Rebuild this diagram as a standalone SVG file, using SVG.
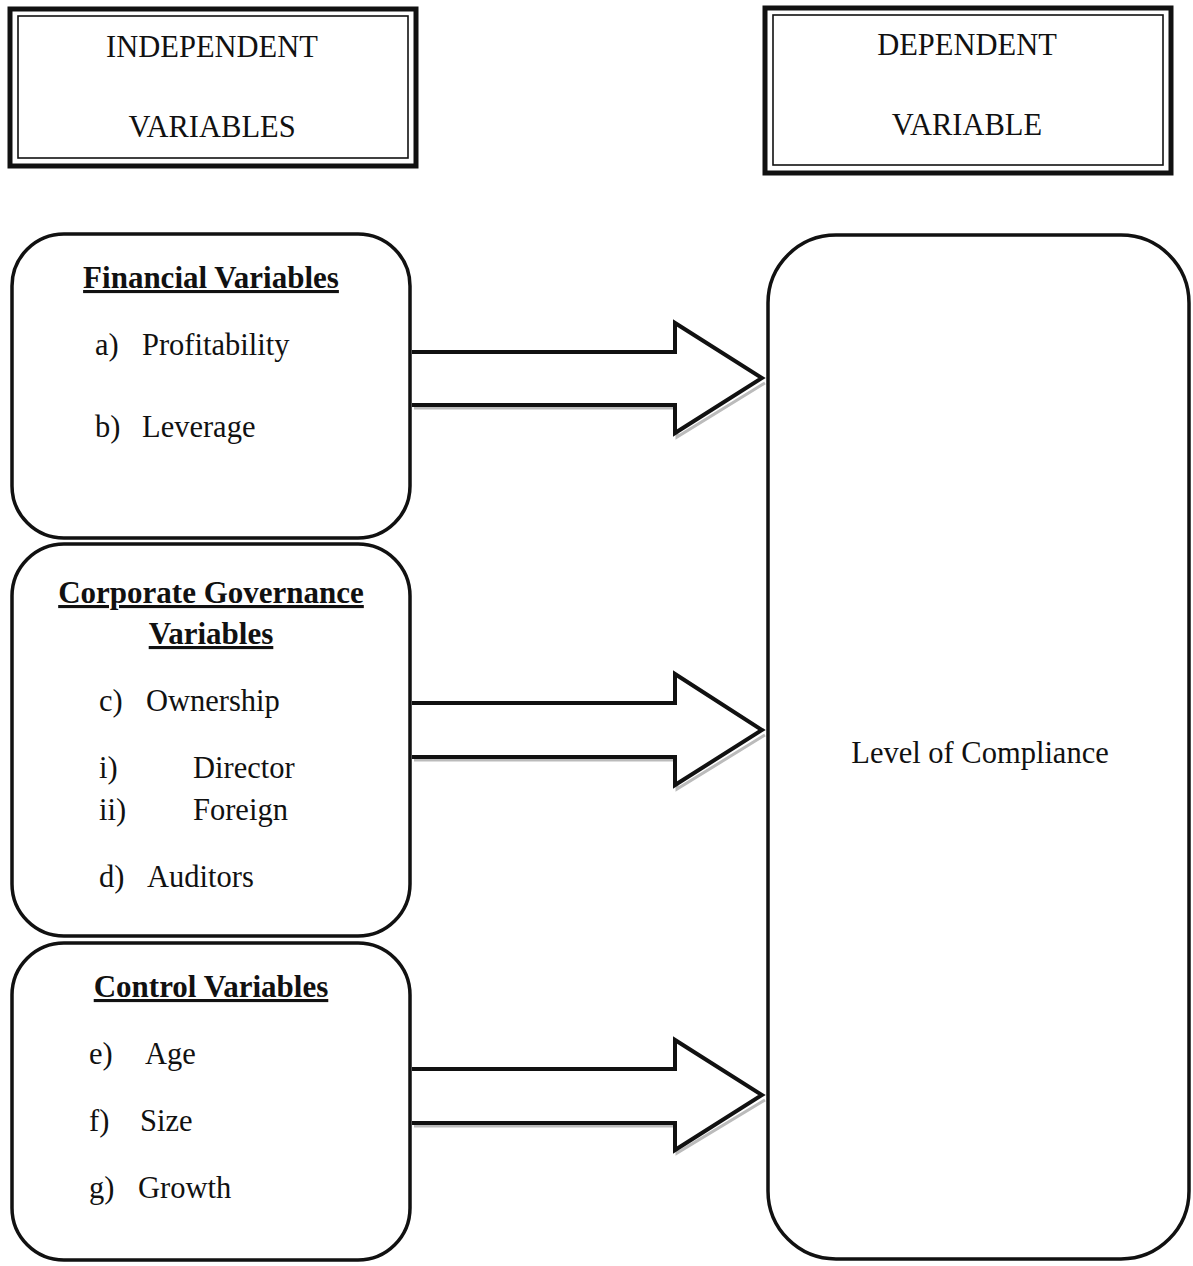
<svg xmlns="http://www.w3.org/2000/svg" width="1193" height="1266" viewBox="0 0 1193 1266">
<defs>
<style>
.t{font-family:"Liberation Serif","Times New Roman",serif;fill:#111;}
.hd{font-size:30.5px;}
.it{font-size:30.5px;}
.bh{font-size:31px;font-weight:bold;text-decoration:underline;}
.outer{fill:none;stroke:#111;stroke-width:5;}
.inner{fill:none;stroke:#111;stroke-width:1.6;}
.rb{fill:#fff;stroke:#111;stroke-width:3.5;}
.arr{fill:#fff;stroke:#111;stroke-width:4;stroke-linejoin:miter;}
.sh{fill:none;stroke:#bbb;stroke-width:3;}
</style>
</defs>
<rect width="1193" height="1266" fill="#fff"/>

<g id="hdr-independent">
<rect class="outer" x="10" y="9" width="406" height="157"/>
<rect class="inner" x="18" y="16" width="390" height="142"/>
<text class="t hd" x="212" y="57" text-anchor="middle">INDEPENDENT</text>
<text class="t hd" x="212" y="137" text-anchor="middle">VARIABLES</text>
</g>

<g id="hdr-dependent">
<rect class="outer" x="765" y="8" width="406" height="165"/>
<rect class="inner" x="773" y="15" width="390" height="150"/>
<text class="t hd" x="967" y="55" text-anchor="middle">DEPENDENT</text>
<text class="t hd" x="967" y="135" text-anchor="middle">VARIABLE</text>
</g>

<g id="connectors">
<path class="sh" d="M414,408 H677 V437 L765,383"/>
<path class="arr" d="M412,352 H675 V323 L762,378 L675,433 V405 H412"/>
<path class="sh" d="M414,760 H677 V789 L765,735"/>
<path class="arr" d="M412,703 H675 V674 L762,730 L675,785 V757 H412"/>
<path class="sh" d="M414,1126 H677 V1153 L765,1100"/>
<path class="arr" d="M412,1069 H675 V1040 L762,1095 L675,1150 V1123 H412"/>
</g>

<g id="node-financial">
<rect class="rb" x="12" y="234" width="398" height="304" rx="52" ry="52"/>
<text class="t bh" x="211" y="288" text-anchor="middle">Financial Variables</text>
<text class="t it" x="95" y="355">a)</text>
<text class="t it" x="142" y="355">Profitability</text>
<text class="t it" x="95" y="437">b)</text>
<text class="t it" x="142" y="437">Leverage</text>
</g>

<g id="node-governance">
<rect class="rb" x="12" y="544" width="398" height="392" rx="52" ry="52"/>
<text class="t bh" x="211" y="603" text-anchor="middle">Corporate Governance</text>
<text class="t bh" x="211" y="644" text-anchor="middle">Variables</text>
<text class="t it" x="99" y="711">c)</text>
<text class="t it" x="146" y="711">Ownership</text>
<text class="t it" x="99" y="778">i)</text>
<text class="t it" x="193" y="778">Director</text>
<text class="t it" x="99" y="820">ii)</text>
<text class="t it" x="193" y="820">Foreign</text>
<text class="t it" x="99" y="887">d)</text>
<text class="t it" x="147" y="887">Auditors</text>
</g>

<g id="node-control">
<rect class="rb" x="12" y="943" width="398" height="317" rx="52" ry="52"/>
<text class="t bh" x="211" y="997" text-anchor="middle">Control Variables</text>
<text class="t it" x="89" y="1064">e)</text>
<text class="t it" x="145" y="1064">Age</text>
<text class="t it" x="89" y="1131">f)</text>
<text class="t it" x="140" y="1131">Size</text>
<text class="t it" x="89" y="1198">g)</text>
<text class="t it" x="138" y="1198">Growth</text>
</g>

<g id="node-compliance">
<rect class="rb" x="768" y="235" width="421" height="1024" rx="68" ry="68"/>
<text class="t it" x="980" y="763" text-anchor="middle">Level of Compliance</text>
</g>
</svg>
